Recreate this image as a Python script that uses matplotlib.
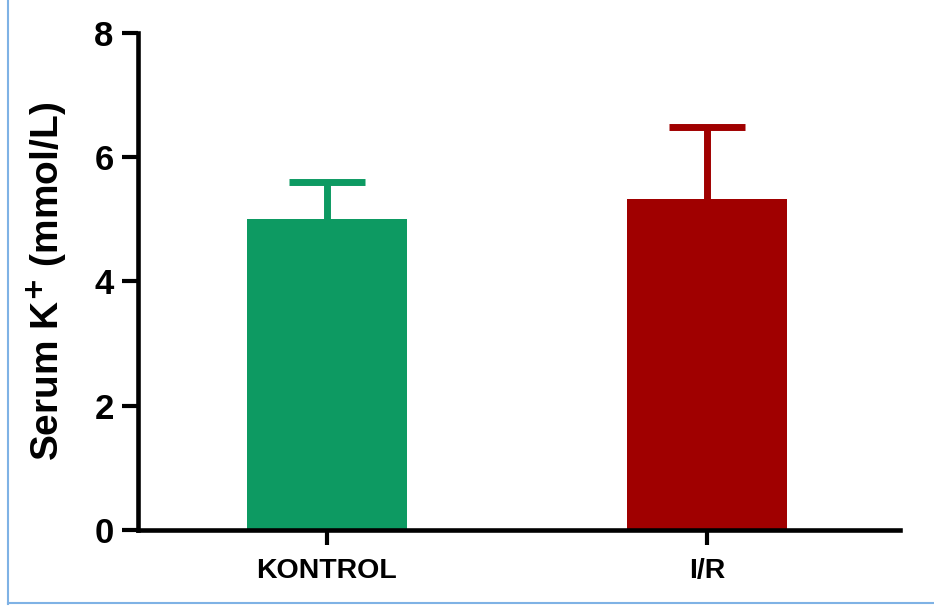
import matplotlib
matplotlib.use('Agg')
import matplotlib.pyplot as plt
from matplotlib.lines import Line2D

# data
groups = ['KONTROL', 'I/R']
means = [5.0, 5.33]
sems = [0.6, 1.15]
colors = ['#0D9A62', '#A00000']
yticks = [0, 2, 4, 6, 8]

plt.rcParams['font.family'] = ['Liberation Sans', 'DejaVu Sans']
plt.rcParams['font.weight'] = 'bold'

fig = plt.figure(figsize=(9.34, 6.07), dpi=100)
ax = fig.add_axes([0.1478, 0.1269, 0.8158, 0.8187])

x = list(range(len(groups)))
for i in x:
    top = means[i] + sems[i]
    # upward-only error bar: stem plus a cap marker
    ax.errorbar(x[i], means[i], yerr=[[0], [sems[i]]], fmt='none',
                ecolor=colors[i], elinewidth=5, capsize=0, zorder=1)
    ax.plot(x[i], top, marker='_', markersize=55, mew=5, color=colors[i], zorder=1)
    ax.bar(x[i], means[i], width=0.42, color=colors[i], zorder=2)

ax.set_xlim(-0.497, 1.508)
ax.set_ylim(0, 8)
ax.set_yticks(yticks)
ax.set_xticks(x)
ax.set_xticklabels(groups, fontsize=20.5, fontweight='bold')
ax.tick_params(axis='y', labelsize=25, width=3, length=11.5, pad=6)
ax.tick_params(axis='x', width=3, length=11, pad=9)
for lab in ax.get_yticklabels():
    lab.set_fontweight('bold')

ax.set_ylabel('Serum K$^{\\mathbf{+}}$ (mmol/L)', fontsize=28, fontweight='bold', labelpad=18)
ax.spines['top'].set_visible(False)
ax.spines['right'].set_visible(False)
ax.spines['left'].set_linewidth(3.3)
ax.spines['bottom'].set_linewidth(3.3)

# light blue frame at left and bottom
fig.add_artist(Line2D([8 / 934, 8 / 934], [3 / 607, 1], color='#7FB2E5', lw=1.5))
fig.add_artist(Line2D([8 / 934, 1], [4 / 607, 4 / 607], color='#7FB2E5', lw=1.5))

fig.savefig('out.png', dpi=100)
